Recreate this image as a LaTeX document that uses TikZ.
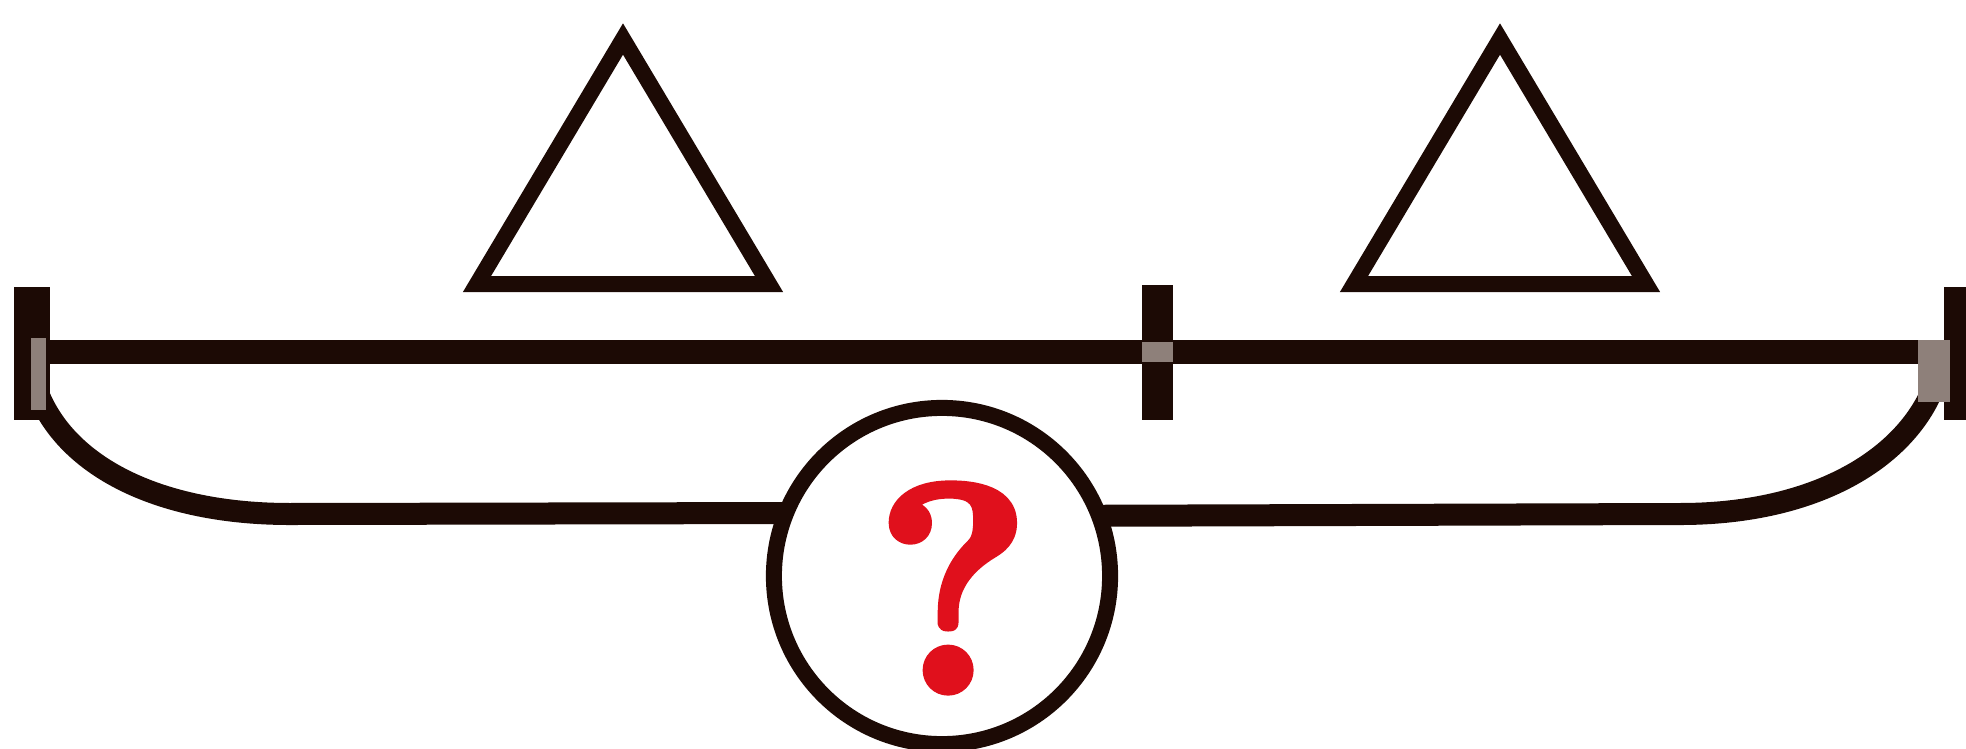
\documentclass[tikz,border=0pt]{standalone}
\usepackage{fontspec}
\usepackage{tikz}
\usetikzlibrary{positioning}
\definecolor{scaleink}{HTML}{1C0A05}
\definecolor{jointgray}{HTML}{8E807A}
\definecolor{qred}{HTML}{E0101C}
\newcommand\heavyglyph[1]{\special{pdf:literal 2 Tr 2.4 w}#1\special{pdf:literal 0 Tr}}
\tikzset{
every picture/.style={line join=round},
weight tri/.style={draw=scaleink, line width=0.16cm, line join=miter, fill=white},
beam line/.style={draw=scaleink, line width=0.24cm},
pan line/.style={draw=scaleink, line width=0.22cm},
post bar/.style={fill=scaleink},
joint patch/.style={fill=jointgray},
unknown ring/.style={circle, draw=scaleink, line width=0.16cm, minimum size=3.36cm,
  inner sep=0pt, outer sep=0pt, fill=white},
qmark label/.style={text=qred, inner sep=0pt,
  font=\bfseries\fontsize{84}{84}\selectfont}
}

\begin{document}
\begin{tikzpicture}[x=0.01cm,y=-0.01cm]
\useasboundingbox (0,0) rectangle (1966,748);
\clip (0,0) rectangle (1966,748);
% weights
\draw[weight tri] (623,39) -- (477,284) -- (769,284) -- cycle;
\draw[weight tri] (1500,39) -- (1354,284) -- (1646,284) -- cycle;
% beam
\coordinate (beamL) at (30,352);
\coordinate (beamR) at (1950,352);
\draw[beam line] (beamL) -- (beamR);
% unknown
\node[unknown ring] (qring) at (942,576) {};
\node[qmark label] (qmark) at (953,588) {\heavyglyph{?}};
% pan under the beam
\coordinate (panL) at (33,378);
\coordinate (bendL) at (290,514);
\coordinate (panR) at (1937,378);
\coordinate (bendR) at (1680,514);
\draw[pan line] (panL) .. controls (55,460) and (150,514) .. (bendL) -- (qring.158.35);
\draw[pan line] (panR) .. controls (1912,455) and (1820,514) .. (bendR) -- (qring.21.65);
% posts
\fill[post bar] (14,287) rectangle (50,420);
\fill[joint patch] (31,338) rectangle (46,410);
\fill[post bar] (1944,287) rectangle (1975,420);
\fill[joint patch] (1918,340) rectangle (1950,402);
\fill[post bar] (1142,285) rectangle (1173,420);
\fill[joint patch] (1142,342) rectangle (1173,362);
\end{tikzpicture}
\end{document}
